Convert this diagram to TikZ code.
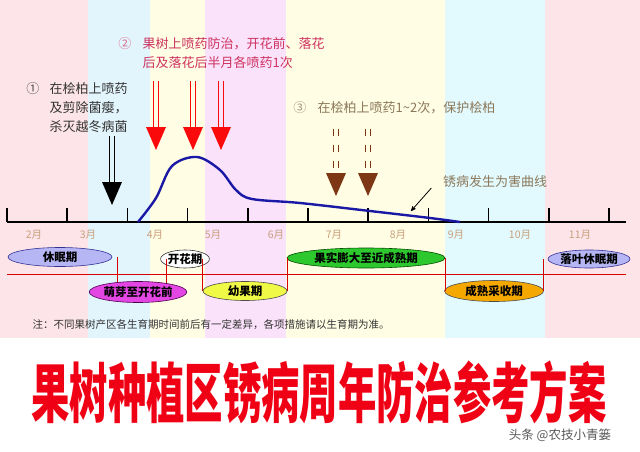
\documentclass[tikz,border=0pt]{standalone}
\usepackage{fontspec}
\setmainfont{Noto Sans CJK SC}
\usepackage{graphicx}
\usetikzlibrary{arrows,shapes.geometric,positioning}

\definecolor{bandpink}{RGB}{253,228,232}
\definecolor{bandblue}{RGB}{226,244,252}
\definecolor{bandyellow}{RGB}{255,253,228}
\definecolor{bandviolet}{RGB}{250,226,250}
\definecolor{bandcyan}{RGB}{226,250,253}
\definecolor{curveblue}{RGB}{25,25,165}
\definecolor{notered}{RGB}{205,50,95}
\definecolor{sprayred}{RGB}{250,10,10}
\definecolor{spraybrown}{RGB}{125,55,20}
\definecolor{monthtan}{RGB}{200,160,125}
\definecolor{notetan}{RGB}{140,120,90}
\definecolor{lavender}{RGB}{182,182,245}
\definecolor{navyline}{RGB}{50,50,150}
\definecolor{budpink}{RGB}{228,70,228}
\definecolor{youngyellow}{RGB}{240,250,70}
\definecolor{swellgreen}{RGB}{45,200,45}
\definecolor{harvestorange}{RGB}{245,168,0}
\definecolor{titlered}{RGB}{240,0,20}

\tikzset{
  spray/.pic={
    \draw[line width=1.4pt] (-2.6,-69) -- (-2.6,-22) (2.6,-69) -- (2.6,-22);
    \fill (0,0) -- (-10,-23) -- (10,-23) -- cycle;
  }
}

\begin{document}
\begin{tikzpicture}[x=1pt,y=-1pt,semithick,>=stealth',
                    font=\fontsize{13}{19}\selectfont]
  \tikzstyle{stage}=[ellipse,draw,inner sep=0pt,
                     font=\fontsize{11.5}{12}\selectfont\bfseries]
  \tikzstyle{month}=[text=monthtan,font=\fontsize{10.5}{12}\selectfont]
  \tikzstyle{axis}=[line width=1.6pt]
  \tikzstyle{link}=[red!85!black,line width=0.9pt]

  \useasboundingbox (0,0) rectangle (640,452);
  \fill[white] (0,0) rectangle (640,452);

  % seasons in the background
  \fill[bandpink]   (0,0)   rectangle (88,338);
  \fill[bandblue]   (88,0)  rectangle (150,338);
  \fill[bandyellow] (150,0) rectangle (205,338);
  \fill[bandviolet] (205,0) rectangle (286,338);
  \fill[bandyellow] (286,0) rectangle (445,338);
  \fill[bandcyan]   (445,0) rectangle (545,338);
  \fill[bandpink]   (545,0) rectangle (640,338);

  % month axis
  \coordinate (axl) at (7,222);
  \coordinate (axr) at (626,222);
  \draw[axis] (axl) -- (axr);
  \foreach \i in {0,...,10}
    \draw[axis] (7+60.2*\i,222) -- ++(0,-14);
  \foreach \x/\m in {34/2,88/3,155/4,213/5,276/6,334/7,398/8,456/9,520/10,580/11}
    \node[month] (m\m) at (\x,235) {\m 月};

  % disease curve
  \draw[curveblue,line width=2.4pt] plot[smooth,tension=0.55] coordinates
    {(138,222) (156,198) (172,166) (197,157) (220,170) (236,190) (252,199)
     (300,203) (370,211) (430,218) (460,222)};
  \node[text=notetan] (lbl) at (495,182) {锈病发生为害曲线};
  \coordinate (hit) at (411,211);
  \draw[->,thick] ([xshift=-8pt,yshift=-6pt]lbl.west) -- (hit);

  % growth stages
  \coordinate (tll) at (7,274);
  \coordinate (tlr) at (626,274);
  \draw[link] (tll) -- (tlr);

  \node[stage,fill=lavender,draw=navyline,minimum width=104,minimum height=19]
    (dorm) at (60,257) {休眠期};
  \node[stage,fill=budpink,draw=violet!60!black,minimum width=87,minimum height=21]
    (bud) at (138,292) {萌芽至开花前};
  \node[stage,fill=white,draw=black!80,minimum width=45,minimum height=18]
    (bloom) at (185,259) {开花期};
  \node[stage,fill=youngyellow,draw=black!70,minimum width=84,minimum height=19]
    (young) at (245,291) {幼果期};
  \node[stage,fill=swellgreen,draw=green!30!black,minimum width=158,minimum height=20]
    (swell) at (366,258) {果实膨大至近成熟期};
  \node[stage,fill=harvestorange,draw=black!70,minimum width=99,minimum height=21]
    (harvest) at (494,291) {成熟采收期};
  \node[stage,fill=lavender,draw=navyline,minimum width=82,minimum height=18]
    (leaffall) at (589,259) {落叶休眠期};

  \draw[link] (bud.155) -- (bud.155 |- dorm.east);
  \draw[link] (bud.17) -- (bud.17 |- bloom.west);
  \draw[link] (young.west) -- (young.west |- bloom.east);
  \draw[link] (young.east) -- (young.east |- swell.west);
  \draw[link] (swell.east) -- (swell.east |- harvest.west);
  \draw[link] (harvest.east) -- (harvest.east |- leaffall.west);

  % spraying times
  \node[anchor=north west,align=left,text=black!80] (t1) at (46,79)
    {在桧柏上喷药\\及剪除菌瘿，\\杀灭越冬病菌};
  \node[anchor=north east,text=black!70] (n1) at ([xshift=-3pt]t1.north west) {①};
  \pic[black] at (112,205) {spray};

  \node[anchor=north west,align=left,text=notered] (t2) at (139,34)
    {果树上喷药防治，开花前、落花\\后及落花后半月各喷药1次};
  \node[anchor=north east,text=notered!70] (n2) at ([xshift=-4pt]t2.north west) {②};
  \foreach \x in {156,193,221}
    \pic[sprayred] at (\x,150) {spray};

  \node[anchor=north west,text=notetan] (t3) at (314,98)
    {在桧柏上喷药1\textasciitilde 2次，保护桧柏};
  \node[anchor=north east,text=notetan!80] (n3) at ([xshift=-4pt]t3.north west) {③};
  \foreach \x in {336,368}
    \pic[spraybrown,dash pattern=on 7pt off 9pt,dash phase=14pt] at (\x,196) {spray};

  % footnote and title
  \node[anchor=west,text=black!80,font=\fontsize{10.5}{12}\selectfont] (note) at (29,325)
    {注：不同果树产区各生育期时间前后有一定差异，各项措施请以生育期为准。};
  \node[inner sep=0pt,text=titlered,font=\fontsize{65}{65}\selectfont\bfseries] (title) at (319,392)
    {\scalebox{0.59}[1]{果树种植区锈病周年防治参考方案}};
  \node[inner sep=0pt,text=black!65,font=\fontsize{12.5}{13}\selectfont] (mark) at (560,435)
    {头条 @农技小青篓};
\end{tikzpicture}
\end{document}
